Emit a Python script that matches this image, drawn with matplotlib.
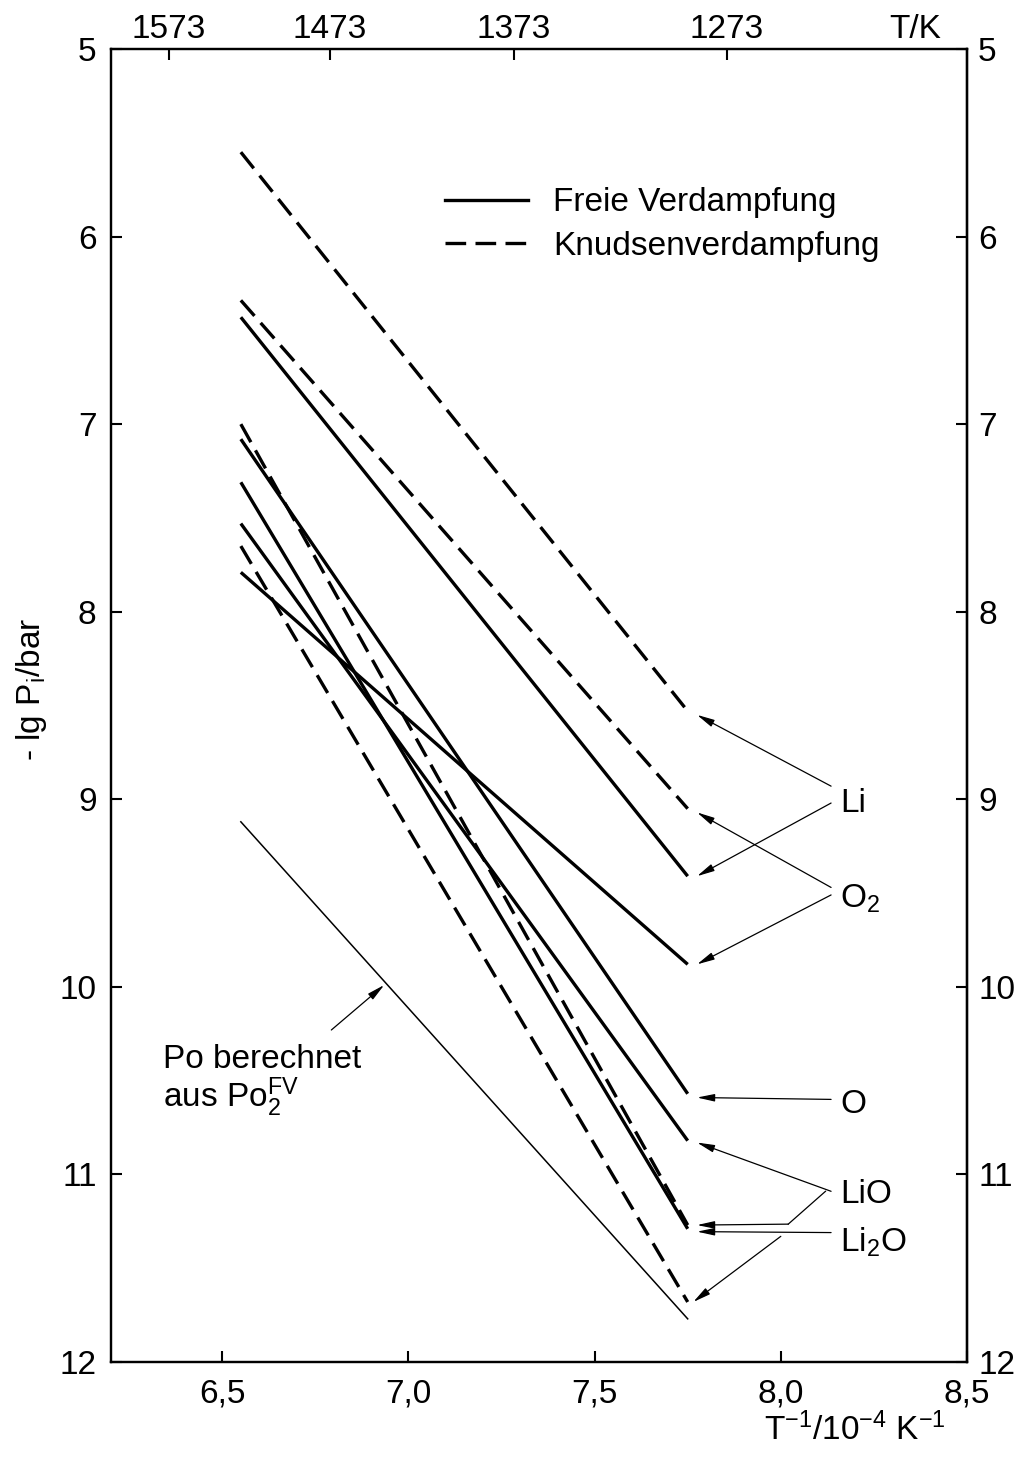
import matplotlib
matplotlib.use("Agg")
import matplotlib.pyplot as plt
from matplotlib.lines import Line2D

FONT = ["Liberation Sans", "DejaVu Sans"]
plt.rcParams["font.family"] = FONT
plt.rcParams["mathtext.fontset"] = "custom"
plt.rcParams["mathtext.rm"] = "Liberation Sans"
plt.rcParams["mathtext.it"] = "Liberation Sans"
plt.rcParams["mathtext.default"] = "regular"

# inverse temperature range covered by the lines (10^4/T, K^-1)
x_start, x_end = 6.55, 7.75

# free evaporation (Freie Verdampfung): -lg p at start / end of the range
free_species = ["Li", "O2", "O", "LiO", "Li2O"]
free_start = [6.43, 7.79, 7.08, 7.53, 7.31]
free_end = [9.41, 9.88, 10.57, 10.82, 11.29]

# Knudsen evaporation (Knudsenverdampfung)
knudsen_species = ["Li", "O2", "LiO", "Li2O"]
knudsen_start = [5.55, 6.34, 7.00, 7.65]
knudsen_end = [8.53, 9.05, 11.27, 11.68]

# oxygen partial pressure computed from p(O2) of free evaporation
po_calc = [9.12, 11.77]

temps_K = [1573, 1473, 1373, 1273]
x_ticks = [6.5, 7.0, 7.5, 8.0, 8.5]
x_ticklabels = ["6,5", "7,0", "7,5", "8,0", "8,5"]
y_ticks = [5, 6, 7, 8, 9, 10, 11, 12]

FS = 24
LW = 2.4
DASH = (0, (6.2, 2.8))
TICK = dict(direction="in", length=8, width=1.5, labelsize=FS)

fig = plt.figure(figsize=(10.15, 14.57), dpi=100)
ax = fig.add_axes([110.5 / 1015, 1 - 1362 / 1457, (967 - 110.5) / 1015, (1362 - 49) / 1457])
ax.set_xlim(6.2, 8.5)
ax.set_ylim(12, 5)

for s, e in zip(free_start, free_end):
    ax.plot([x_start, x_end], [s, e], color="k", lw=LW, solid_capstyle="butt")
for s, e in zip(knudsen_start, knudsen_end):
    ax.plot([x_start, x_end], [s, e], color="k", lw=LW, linestyle=DASH)
ax.plot([x_start, x_end], po_calc, color="k", lw=1.1)

# axes, ticks and tick labels
for sp in ax.spines.values():
    sp.set_linewidth(1.6)
ax.set_xticks(x_ticks)
ax.set_xticklabels(x_ticklabels)
ax.set_yticks(y_ticks)
ax.set_yticklabels([str(v) for v in y_ticks])
ax.tick_params(axis="both", **TICK)
ax.tick_params(axis="x", pad=12, top=False)
ax.tick_params(axis="y", right=False, pad=10)

right = ax.secondary_yaxis("right")
right.set_yticks(y_ticks)
right.set_yticklabels([str(v) for v in y_ticks])
right.tick_params(axis="y", pad=8, **TICK)
right.spines["right"].set_linewidth(1.6)

top = ax.twiny()
top.set_xlim(ax.get_xlim())
top.set_xticks([1e4 / T for T in temps_K])
top.set_xticklabels([str(T) for T in temps_K])
top.set_xticks([8.36], minor=True)
top.set_xticklabels(["T/K"], minor=True)
top.tick_params(axis="x", which="major", pad=3, **TICK)
top.tick_params(axis="x", which="minor", length=0, labelsize=FS, pad=3)
for sp in top.spines.values():
    sp.set_linewidth(1.6)

ax.text(-0.0917, 0.512, "- lg P$_i$/bar", transform=ax.transAxes, fontsize=FS,
        rotation=90, ha="center", va="center")
ax.text(0.869, -0.0594, "T$^{-1}$/10$^{-4}$ K$^{-1}$", transform=ax.transAxes,
        fontsize=FS, ha="center", va="baseline")

# legend
handles = [Line2D([], [], color="k", lw=LW),
           Line2D([], [], color="k", lw=LW, linestyle=DASH)]
ax.legend(handles, ["Freie Verdampfung", "Knudsenverdampfung"], loc="upper left",
          bbox_to_anchor=(0.390, 0.8946), frameon=False, fontsize=FS,
          handlelength=2.5, handletextpad=0.75, labelspacing=0.38,
          borderpad=0, borderaxespad=0)

# labels with arrows pointing to the line ends
AP = dict(arrowstyle="-|>,head_length=0.75,head_width=0.16", color="k", lw=0.9,
          shrinkA=0, shrinkB=0, mutation_scale=14)
LP = dict(color="k", lw=0.9)
xt = x_end + 0.025
xl = 8.135


def arrow(x0, y0, x1, y1):
    ax.annotate("", xy=(x1, y1), xytext=(x0, y0), arrowprops=AP)


arrow(xl, 8.93, xt, knudsen_end[0] + 0.02)
arrow(xl, 9.02, xt, free_end[0])
arrow(xl, 9.47, xt, knudsen_end[1] + 0.02)
arrow(xl, 9.51, xt, free_end[1])
arrow(xl, 10.60, xt, free_end[2] + 0.02)
arrow(xl, 11.09, xt, free_end[3] + 0.01)
ax.plot([8.12, 8.02], [11.09, 11.265], **LP)
arrow(8.02, 11.265, xt, knudsen_end[2])
arrow(xl, 11.31, xt, free_end[4] + 0.015)
arrow(8.0, 11.33, x_end + 0.015, knudsen_end[3])

lab = dict(fontsize=FS, ha="left", va="baseline")
ax.text(8.16, 9.07, "Li", **lab)
ax.text(8.16, 9.58, "O$_2$", **lab)
ax.text(8.16, 10.67, "O", **lab)
ax.text(8.16, 11.15, "LiO", **lab)
ax.text(8.16, 11.41, "Li$_2$O", **lab)

ax.annotate("", xy=(6.935, 9.99), xytext=(6.793, 10.23), arrowprops=AP)
ax.text(6.34, 10.43, "Po berechnet", **lab)
ax.text(6.34, 10.64, "aus Po$_2^{FV}$", **lab)

fig.savefig("out.png", dpi=100)
